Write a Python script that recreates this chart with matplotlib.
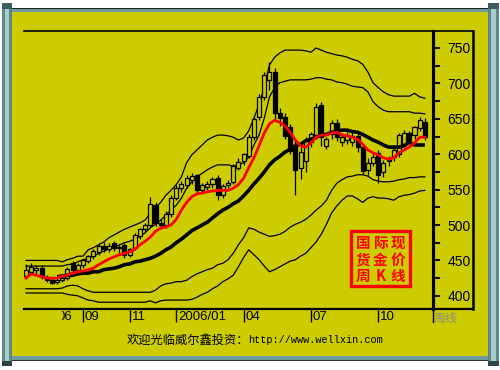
import matplotlib
matplotlib.use('Agg')
import matplotlib.pyplot as plt
import matplotlib.transforms as mtransforms
from matplotlib.patches import Rectangle
import numpy as np

# ---------------- data (weekly gold, Jun 2005 - Dec 2006) ----------------
opens = [428, 433, 436, 440, 427, 422, 419, 423, 425, 446, 437, 444, 449, 456, 462, 470,
         466, 474, 467, 472, 457, 467, 485, 494, 500, 528, 503, 500, 516, 538, 552, 557,
         563, 570, 549, 554, 558, 566, 542, 556, 561, 581, 590, 597, 624, 652, 681, 705,
         716, 658, 652, 638, 612, 580, 590, 617, 627, 669, 612, 628, 644, 617, 620, 617,
         626, 610, 578, 588, 602, 575, 590, 596, 600, 614, 630, 627, 637, 645]
highs = [445, 446, 444, 443, 430, 425, 425, 428, 441, 449, 447, 452, 458, 466, 474, 476,
         475, 477, 472, 475, 468, 489, 496, 503, 540, 533, 508, 520, 542, 556, 562, 571,
         574, 572, 560, 562, 568, 570, 558, 563, 586, 594, 602, 628, 652, 685, 716, 730,
         722, 665, 658, 642, 618, 610, 625, 632, 672, 674, 625, 648, 650, 630, 632, 632,
         630, 613, 595, 602, 606, 592, 598, 612, 630, 634, 633, 640, 652, 651]
lows = [425, 429, 431, 424, 419, 417, 416, 420, 423, 434, 434, 440, 446, 452, 458, 462,
        462, 463, 460, 454, 455, 465, 480, 490, 497, 498, 495, 496, 512, 535, 547, 552,
        558, 545, 545, 550, 552, 536, 538, 552, 558, 578, 585, 594, 620, 648, 676, 690,
        650, 640, 622, 600, 543, 565, 575, 610, 622, 612, 608, 622, 618, 612, 615, 612,
        603, 572, 570, 584, 560, 568, 583, 590, 596, 610, 616, 622, 633, 620]
closes = [437, 441, 440, 427, 422, 418, 423, 425, 438, 437, 444, 450, 456, 463, 470, 466,
          471, 467, 469, 457, 466, 486, 494, 500, 530, 503, 500, 516, 538, 552, 558, 567,
          569, 549, 556, 558, 565, 542, 555, 560, 583, 589, 600, 624, 650, 681, 712, 716,
          658, 651, 626, 605, 578, 603, 618, 628, 667, 624, 622, 644, 624, 624, 627, 626,
          610, 576, 588, 596, 571, 588, 592, 606, 627, 630, 620, 638, 648, 624]

ma_short = [425, 431, 429, 427, 425, 425, 425, 428, 429, 432, 434, 435, 437, 439, 444, 448,
            452, 455, 458, 460, 462, 466, 472, 477, 483, 491, 496, 497, 500, 508, 521, 532,
            540, 544, 545, 547, 548, 549, 549, 549, 552, 557, 566, 581, 595, 612, 630, 643,
            648, 645, 640, 631, 620, 612, 610, 616, 624, 627, 627, 630, 631, 627, 626, 624,
            621, 614, 606, 602, 599, 595, 593, 595, 602, 606, 610, 616, 624, 624]
ma_long = [None, None, None, None, None, None, 427, 428, 429, 429, 431, 432, 432, 434, 434, 437,
           438, 439, 441, 444, 445, 448, 449, 451, 453, 456, 460, 465, 469, 475, 480, 486,
           492, 496, 500, 504, 510, 516, 521, 525, 530, 534, 541, 549, 558, 566, 575, 585,
           592, 597, 603, 607, 612, 614, 619, 621, 624, 627, 628, 631, 632, 634, 634, 632,
           631, 628, 624, 620, 617, 613, 610, 610, 610, 612, 617, 613, 613, 613]
upper_outer = [450, 450, 450, 450, 450, 450, 450, 448, 451, 453, 456, 456, 465, 468, 472, 476,
               482, 486, 490, 494, 497, 500, 503, 507, 517, 524, 532, 542, 549, 557, 568, 588,
               599, 606, 613, 620, 624, 627, 627, 626, 624, 620, 623, 633, 651, 670, 695, 726,
               737, 743, 747, 747, 747, 747, 746, 744, 750, 747, 744, 742, 740, 739, 737, 734,
               732, 727, 716, 701, 694, 688, 684, 682, 682, 682, 682, 686, 681, 679]
upper_inner = [442, 442, 442, 442, 442, 442, 442, 442, 444, 445, 448, 451, 453, 456, 460, 463,
               466, 469, 472, 475, 477, 480, 484, 489, 496, 501, 507, 514, 521, 528, 538, 552,
               561, 568, 573, 578, 582, 585, 585, 585, 583, 585, 588, 596, 613, 627, 651, 681,
               694, 701, 703, 705, 705, 705, 705, 706, 708, 708, 706, 705, 702, 701, 699, 696,
               695, 694, 688, 674, 667, 662, 660, 660, 660, 660, 660, 658, 658, 657]
lower_inner = [410, 410, 410, 410, 410, 410, 410, 411, 414, 415, 414, 410, 407, 405, 405, 405,
               405, 405, 405, 405, 405, 405, 405, 405, 405, 408, 414, 417, 418, 420, 420, 422,
               427, 431, 434, 437, 439, 444, 446, 451, 460, 472, 482, 496, 494, 490, 487, 484,
               485, 487, 491, 497, 501, 504, 508, 514, 521, 527, 535, 549, 559, 564, 568, 569,
               571, 571, 569, 564, 562, 561, 561, 562, 564, 565, 567, 567, 568, 568]
lower_outer = [404, 404, 404, 404, 404, 404, 404, 404, 402, 401, 400, 397, 394, 393, 391, 391,
               391, 391, 391, 391, 391, 391, 391, 391, 393, 390, 393, 394, 394, 394, 394, 394,
               395, 398, 402, 405, 410, 414, 420, 424, 429, 441, 454, 465, 458, 451, 442, 434,
               437, 441, 445, 449, 451, 456, 460, 468, 476, 487, 501, 517, 527, 535, 541, 541,
               537, 532, 538, 540, 538, 538, 537, 535, 540, 542, 543, 545, 548, 549]

tick_weeks = [11, 20, 29, 42, 55, 68]
tick_labels = ['09', '11', '2006/01', '04', '07', '10']
price_ticks = [400, 450, 500, 550, 600, 650, 700, 750]
footer = '欢迎光临威尔鑫投资：'
footer_url = 'http://www.wellxin.com'
stamp_rows = ['国际现', '货金价', '周K线']

# ---------------- layout helpers ----------------
W, H = 500, 370
YELLOW = '#CCCC00'
FRAME = '#6E9C9C'


def fx(x):
    return x / W


def fy(y):
    return 1 - y / H


fig = plt.figure(figsize=(5, 3.7), dpi=100)
fig.patch.set_facecolor('white')

# yellow panel + frame
fig.add_artist(Rectangle((fx(12), fy(356)), (488 - 12) / W, (356 - 12) / H,
                         transform=fig.transFigure, facecolor=YELLOW, edgecolor='none', zorder=0))
fig.add_artist(Rectangle((fx(12), fy(12)), (488 - 12) / W, 4 / H,
                         transform=fig.transFigure, facecolor=FRAME, edgecolor='none', zorder=0))
fig.add_artist(Rectangle((fx(12), fy(9)), (488 - 12) / W, 1 / H,
                         transform=fig.transFigure, facecolor='#222222', edgecolor='none', zorder=0))
fig.add_artist(Rectangle((fx(12), fy(360)), (488 - 12) / W, 4 / H,
                         transform=fig.transFigure, facecolor=FRAME, edgecolor='none', zorder=0))
fig.add_artist(Rectangle((fx(12), fy(361)), (488 - 12) / W, 1 / H,
                         transform=fig.transFigure, facecolor='#333333', edgecolor='none', zorder=0))
# side bars (scroll-like)
for (x0, x1) in [(2, 12), (488, 499)]:
    fig.add_artist(Rectangle((fx(x0), fy(366)), (x1 - x0) / W, (366 - 3) / H,
                             transform=fig.transFigure, facecolor='#5E8888', edgecolor='none', zorder=0))
    fig.add_artist(Rectangle((fx(x0 + 3), fy(366)), (x1 - x0 - 6) / W, (366 - 3) / H,
                             transform=fig.transFigure, facecolor='#A8CCCC', edgecolor='none', zorder=0))
    fig.add_artist(Rectangle((fx(x0), fy(9)), (x1 - x0) / W, 6 / H,
                             transform=fig.transFigure, facecolor='#3E5E5E', edgecolor='none', zorder=0))
    fig.add_artist(Rectangle((fx(x0), fy(366)), (x1 - x0) / W, 5 / H,
                             transform=fig.transFigure, facecolor='#2E4444', edgecolor='none', zorder=0))

# ---------------- main axes ----------------
n = len(closes)
ax = fig.add_axes([fx(24), fy(309), (433 - 24) / W, (309 - 31) / H])
ax.set_facecolor('none')
ax.set_xlim(-0.386, 78.57)
ax.set_ylim(381.4, 774)
ax.spines['left'].set_visible(False)
ax.spines['top'].set_linewidth(1.2)
ax.spines['bottom'].set_linewidth(1.6)
ax.spines['right'].set_linewidth(2.2)
ax.set_yticks([])

x = np.arange(n)
thin = dict(color='black', lw=0.9, zorder=2)
ax.plot(x, upper_outer, **thin)
ax.plot(x, upper_inner, **thin)
ax.plot(x, lower_inner, **thin)
ax.plot(x, lower_outer, **thin)

o = np.array(opens, float)
c = np.array(closes, float)
hi = np.array(highs, float)
lo = np.array(lows, float)
up = c >= o
ax.vlines(x, lo, hi, color='black', lw=0.9, zorder=3)
bottoms = np.minimum(o, c)
heights = np.maximum(np.abs(c - o), 1.0)
ax.bar(x[up], heights[up], bottom=bottoms[up], width=0.78, facecolor=YELLOW,
       edgecolor='black', linewidth=0.9, zorder=4)
ax.bar(x[~up], heights[~up], bottom=bottoms[~up], width=0.78, facecolor='black',
       edgecolor='black', linewidth=0.9, zorder=4)

ml = np.array([np.nan if v is None else v for v in ma_long], float)
ax.plot(x, ml, color='black', lw=2.6, zorder=5, solid_capstyle='butt')
ax.plot(x, ma_short, color='#FF0000', lw=2.0, zorder=6)

# x ticks
ax.set_xticks(tick_weeks)
ax.set_xticklabels([''] * len(tick_weeks))
ax.tick_params(axis='x', direction='out', length=9.5, width=1.0, color='black')
off = mtransforms.ScaledTranslation(2 / 100, -2 / 100, fig.dpi_scale_trans)
btrans = mtransforms.blended_transform_factory(ax.transData, ax.transAxes) + off
for wk, lab in zip(tick_weeks, tick_labels):
    ax.text(wk, 0, lab, transform=btrans, ha='left', va='top',
            fontsize=9.5, family='Liberation Sans', color='black')
# clipped remnant of an earlier label (shows as ")6")
t = fig.text(fx(57.5), fy(311), '06', ha='left', va='top',
             fontsize=9.5, family='Liberation Sans', color='black')
t.set_clip_box(mtransforms.TransformedBbox(
    mtransforms.Bbox.from_extents(fx(62), fy(330), fx(80), fy(305)), fig.transFigure))
t.set_clip_on(True)

# ---------------- right price axis box ----------------
ax2 = fig.add_axes([fx(433), fy(309), (473 - 433) / W, (309 - 31) / H])
ax2.set_facecolor('none')
ax2.set_xlim(0, 1)
ax2.set_ylim(381.4, 774)
ax2.set_xticks([])
ax2.spines['left'].set_linewidth(2.2)
ax2.spines['right'].set_linewidth(1.8)
ax2.spines['top'].set_linewidth(1.2)
ax2.spines['bottom'].set_linewidth(1.6)
ax2.set_yticks(price_ticks)
ax2.set_yticklabels([str(v) for v in price_ticks], family='Liberation Sans', fontsize=10)
ax2.set_yticks([425, 475, 525, 575, 625, 675, 725], minor=True)
ax2.tick_params(axis='y', which='both', left=True, right=False, labelleft=False,
                labelright=True, direction='in', length=5, width=1.3, pad=-1.5)
for lbl in ax2.get_yticklabels():
    lbl.set_horizontalalignment('right')

# "周线" label below the price box
fig.text(fx(434), fy(312), '周线', ha='left', va='top', fontsize=8.5,
         family=['Noto Sans CJK SC', 'DejaVu Sans'], color='#8A8A8A')
fig.add_artist(plt.Line2D([fx(433), fx(433)], [fy(309), fy(322)], color='black', lw=1.0))

# footer
fig.text(fx(127), fy(340), footer, ha='left', va='center', fontsize=8.8,
         family=['Noto Sans CJK SC', 'DejaVu Sans'], color='black')
fig.text(fx(248), fy(340), footer_url, ha='left', va='center', fontsize=7.4,
         family='Liberation Mono', color='black')

# red stamp
fig.add_artist(Rectangle((fx(351), fy(286)), (410 - 351) / W, (286 - 231) / H,
                         transform=fig.transFigure, facecolor='none', edgecolor='#FF0000',
                         linewidth=2.4, zorder=7))
for r, row in enumerate(stamp_rows):
    for k, ch in enumerate(row):
        fig.text(fx(363 + k * 17.5), fy(243 + r * 16.5), ch, ha='center', va='center',
                 fontsize=10.5, fontweight='bold', family=['Noto Sans CJK SC', 'DejaVu Sans'],
                 color='#FF0000', zorder=8)

fig.savefig('out.png', dpi=100, facecolor='white')
